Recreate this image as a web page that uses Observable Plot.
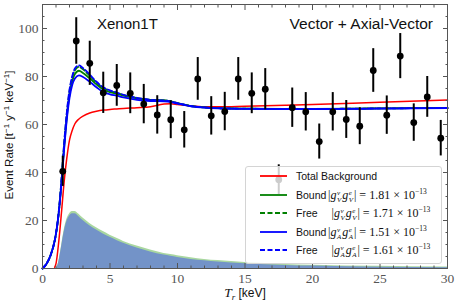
<!DOCTYPE html>
<html><head><meta charset="utf-8">
<script src="https://cdn.jsdelivr.net/npm/d3@7"></script>
<script src="https://cdn.jsdelivr.net/npm/@observablehq/plot@0.6"></script>
<style>
body{margin:0;background:#fff;}
#wrap{position:relative;width:458px;height:304px;overflow:hidden;}
#legend{position:absolute;left:245px;top:166px;width:197px;height:98px;box-sizing:border-box;border:1px solid #d4d4d4;border-radius:3px;background:rgba(255,255,255,0.8);}
.row{position:absolute;height:16px;display:flex;align-items:center;white-space:nowrap;color:#111;}
.lab{font-family:"Liberation Sans",sans-serif;font-size:10.5px;}
.m{position:absolute;white-space:nowrap;color:#111;font-family:"Liberation Serif",serif;font-size:12px;line-height:16px;height:16px;}
.ss{display:inline-block;vertical-align:-3px;font-size:7px;line-height:7px;font-style:italic;margin:0 1px 0 0.5px;}
.ss span{display:block;height:7px;}
.sp{font-size:7.5px;vertical-align:5px;line-height:7px;}
</style></head><body><div id="wrap"></div>
<script>
// ---- data: Xenon1T measured event rate (bins of 1 keV)
const binCenter = [1.5,2.5,3.5,4.5,5.5,6.5,7.5,8.5,9.5,10.5,11.5,12.5,13.5,14.5,15.5,16.5,17.5,18.5,19.5,20.5,21.5,22.5,23.5,24.5,25.5,26.5,27.5,28.5,29.5];
const rate     = [40.5,94.8,85.5,73.2,76.3,73.0,68.5,64.0,62.0,57.8,79.0,63.6,65.4,79.0,73.0,74.7,37.0,67.0,65.3,52.9,65.3,62.1,59.3,82.5,63.9,88.5,60.8,71.5,54.3];
const rateErr  = [6.3,9.7,9.2,8.6,8.7,8.5,8.2,8.0,7.9,7.6,8.9,8.0,8.0,8.9,8.5,8.6,6.2,8.2,8.0,7.3,8.0,7.9,7.7,9.1,8.0,9.4,7.8,8.5,7.4];

// ---- curves on an energy grid (keV)
const energy = [0,0.3,0.6,0.9,1.0,1.2,1.4,1.6,1.8,2.0,2.2,2.4,2.7,3.0,3.5,4,4.5,5,5.5,6,7,8,9,9.5,10,11,12,13,15,18,20,25,30];
const totalBackground = [null,null,null,0.5,2,11,23,36,46,53.5,57.5,60.3,62.3,63.5,64.8,65.5,66,66.3,66.5,66.7,67,67.4,68.5,68.6,68.3,67.7,67.4,67.4,67.6,68,68.3,69.3,70.2];
const boundV = [0,2,5.5,11.5,14.5,23,35.5,50.5,63,72.3,78,81,82.4,81.5,79.2,76.7,74.6,73.5,72.8,72,70.9,70.2,70,69.6,68.9,67.7,67.1,66.8,66.6,66.5,66.5,66.7,66.9];
const freeV  = [0,2,5.5,11.5,14.5,23.3,36.2,51.5,64.3,73.8,79.4,82.6,84,83,80.3,77.4,75.2,74,73.1,72.3,71,70.3,70,69.6,68.9,67.7,67.1,66.8,66.6,66.5,66.5,66.7,66.9];
const boundA = [0,2,5.5,11.5,14.5,23,35,49.5,62,71,76.5,79.2,80.5,79.8,77.8,75.5,73.5,72.6,72,71.3,70.3,69.8,69.6,69.3,68.7,67.6,67,66.7,66.5,66.4,66.4,66.6,66.8];
const freeA  = [0,2,5.5,11.5,14.5,23.5,36.5,52,65,74.5,80,83.3,84.6,83.5,80.8,77.8,75.5,74.2,73.3,72.4,71.1,70.3,70,69.6,68.9,67.7,67.1,66.8,66.6,66.5,66.5,66.7,66.9];
const signalV = [0,0,0,0,0,2.7,9.1,15.8,20.4,22.7,23.7,23.8,22.6,21.0,18.8,17.0,15.4,13.9,12.6,11.3,9.4,7.7,6.3,5.8,5.3,4.5,3.8,3.3,2.5,1.7,1.4,0.9,0.6];
const signalA = [0,0,0,0,0,2.5,8.5,15,19.5,21.8,22.8,22.8,21.6,20,17.8,16,14.4,13,11.7,10.5,8.5,6.9,5.6,5.1,4.6,3.8,3.2,2.7,2.0,1.3,1.0,0.55,0.3];

// ---- ticks
const xMajor = [0,5,10,15,20,25,30];
const xMinor = d3.range(0,31,1).filter(v => v % 5 !== 0);
const yMajor = [0,20,40,60,80,100];
const yMinor = d3.range(0,111,5).filter(v => v % 20 !== 0);

// ---- legend
const legendLabels = ["Total Background","Bound","Free","Bound","Free"];
const legendCoupling = [null,"V","V","A","A"];
const legendValue = [null,"1.81","1.71","1.51","1.61"];

const rows = energy.map((E,i) => ({E, bg: totalBackground[i], bV: boundV[i], fV: freeV[i], bA: boundA[i], fA: freeA[i], sV: signalV[i], sA: signalA[i]}));
const pts = binCenter.map((x,i) => ({x, y: rate[i], e: rateErr[i]}));
const curve = "monotone-x";
const tickColor = "#555";

const chart = Plot.plot({
  width: 458, height: 304,
  marginLeft: 42, marginRight: 11, marginTop: 4, marginBottom: 36,
  x: {domain: [0,30]},
  y: {domain: [0,110]},
  style: {background: "white", overflow: "visible"},
  marks: [
    Plot.areaY(rows, {x: "E", y: "sV", fill: "#a9d7a0", curve}),
    Plot.areaY(rows, {x: "E", y: "sA", fill: "#7393c8", curve}),
    Plot.lineY(rows.filter(d => d.bg != null), {x: "E", y: "bg", stroke: "#ff0000", strokeWidth: 1.5, curve}),
    Plot.lineY(rows, {x: "E", y: "bV", stroke: "#008000", strokeWidth: 1.8, curve}),
    Plot.lineY(rows, {x: "E", y: "fV", stroke: "#008000", strokeWidth: 1.8, strokeDasharray: "5,2.5", curve}),
    Plot.lineY(rows, {x: "E", y: "bA", stroke: "#0000ff", strokeWidth: 1.8, curve}),
    Plot.lineY(rows, {x: "E", y: "fA", stroke: "#0000ff", strokeWidth: 1.8, strokeDasharray: "5,2.5", curve}),
    Plot.ruleX(pts, {x: "x", y1: d => d.y - d.e, y2: d => d.y + d.e, stroke: "black", strokeWidth: 2}),
    Plot.dot(pts, {x: "x", y: "y", r: 3.4, fill: "black"}),
    Plot.frame({stroke: tickColor}),
    Plot.axisX(xMajor, {anchor: "bottom", tickSize: 0, tickPadding: 5, fontSize: 13.5, fontFamily: "Liberation Serif", fill: tickColor, label: null}),
    Plot.axisY(yMajor, {anchor: "left", tickSize: 0, tickPadding: 4, fontSize: 13.5, fontFamily: "Liberation Serif", fill: tickColor, label: null}),
    Plot.axisX(xMajor, {anchor: "bottom", tickSize: -5, fill: "none", stroke: tickColor, label: null}),
    Plot.axisX(xMajor, {anchor: "top", tickSize: -5, fill: "none", stroke: tickColor, label: null}),
    Plot.axisX(xMinor, {anchor: "bottom", tickSize: -2.5, fill: "none", stroke: tickColor, label: null}),
    Plot.axisX(xMinor, {anchor: "top", tickSize: -2.5, fill: "none", stroke: tickColor, label: null}),
    Plot.axisY(yMajor, {anchor: "left", tickSize: -5, fill: "none", stroke: tickColor, label: null}),
    Plot.axisY(yMajor, {anchor: "right", tickSize: -5, fill: "none", stroke: tickColor, label: null}),
    Plot.axisY(yMinor, {anchor: "left", tickSize: -2.5, fill: "none", stroke: tickColor, label: null}),
    Plot.axisY(yMinor, {anchor: "right", tickSize: -2.5, fill: "none", stroke: tickColor, label: null})
  ]
});

const svg = d3.select(chart);
svg.append("text").attr("x", 97).attr("y", 28.5).attr("text-anchor", "start").attr("font-family", "Liberation Sans").attr("font-size", 15).attr("fill", "#111").text("Xenon1T");
svg.append("text").attr("x", 433).attr("y", 28.5).attr("text-anchor", "end").attr("font-family", "Liberation Sans").attr("font-size", 15.5).attr("fill", "#111").text("Vector + Axial-Vector");

const yl = svg.append("text").attr("transform", "translate(13,135) rotate(-90)").attr("text-anchor", "middle")
  .attr("font-family", "Liberation Sans").attr("font-size", 11.5).attr("fill", "#111");
yl.append("tspan").text("Event Rate [t");
yl.append("tspan").attr("dy", -4).attr("font-size", 8).text("−1");
yl.append("tspan").attr("dy", 4).text(" y");
yl.append("tspan").attr("dy", -4).attr("font-size", 8).text("−1");
yl.append("tspan").attr("dy", 4).text(" keV");
yl.append("tspan").attr("dy", -4).attr("font-size", 8).text("−1");
yl.append("tspan").attr("dy", 4).text("]");

const xl = svg.append("text").attr("x", 245).attr("y", 297).attr("text-anchor", "middle")
  .attr("font-family", "Liberation Sans").attr("font-size", 12).attr("fill", "#111");
xl.append("tspan").attr("font-family", "Liberation Serif").attr("font-style", "italic").attr("font-size", 13.5).text("T");
xl.append("tspan").attr("font-family", "Liberation Serif").attr("font-style", "italic").attr("font-size", 9).attr("dy", 2.5).text("r");
xl.append("tspan").attr("dy", -2.5).text(" [keV]");

const wrap = document.getElementById("wrap");
wrap.appendChild(chart);

const leg = document.createElement("div");
leg.id = "legend";
wrap.appendChild(leg);

const rowY = [176, 194.5, 213, 231.5, 250];
const sampleStyle = [
  {c: "#ff0000", d: null},
  {c: "#008000", d: null},
  {c: "#008000", d: "5,2.5"},
  {c: "#0000ff", d: null},
  {c: "#0000ff", d: "5,2.5"}
];
legendLabels.forEach((lab, i) => {
  const r = document.createElement("div");
  r.className = "row";
  r.style.left = "260px";
  r.style.top = (rowY[i] - 8) + "px";
  const s = sampleStyle[i];
  r.innerHTML = `<svg width="27" height="4" style="display:block"><line x1="0" y1="2" x2="27" y2="2" stroke="${s.c}" stroke-width="1.8" ${s.d ? `stroke-dasharray="${s.d}"` : ""}/></svg>`;
  wrap.appendChild(r);
  const t = document.createElement("div");
  t.className = "row lab";
  t.style.left = "296px";
  t.style.top = (rowY[i] - 8) + "px";
  t.textContent = lab;
  wrap.appendChild(t);
  if (legendCoupling[i]) {
    const c = legendCoupling[i];
    const m = document.createElement("div");
    m.className = "m";
    m.style.left = (lab === "Bound" ? 328 : 331.5) + "px";
    m.style.top = (rowY[i] - 8) + "px";
    m.innerHTML = `|<i>g</i><span class="ss"><span>ν</span><span>${c}</span></span><i>g</i><span class="ss"><span>e</span><span>${c}</span></span>|&nbsp;=&nbsp;${legendValue[i]}&nbsp;×&nbsp;10<span class="sp">−13</span>`;
    wrap.appendChild(m);
  }
});
</script>
</body></html>
